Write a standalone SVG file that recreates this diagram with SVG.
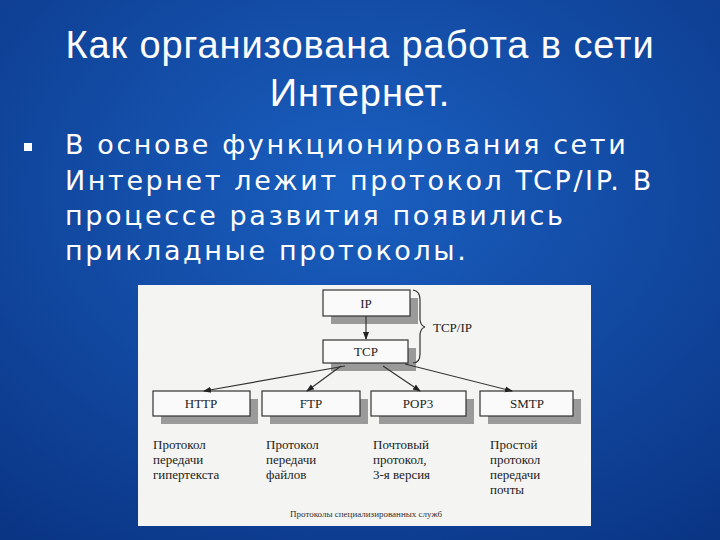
<svg xmlns="http://www.w3.org/2000/svg" width="720" height="540" viewBox="0 0 720 540">
<defs>
<radialGradient id="bg" cx="0.5" cy="0.35" r="0.8">
<stop offset="0" stop-color="#1a5fc0"/><stop offset="1" stop-color="#0a3585"/>
</radialGradient>
<marker id="ah" markerWidth="8" markerHeight="8" refX="7" refY="4" orient="auto" markerUnits="userSpaceOnUse"><path d="M0,1 L8,4 L0,7 z" fill="#222"/></marker>
<style>
.t{fill:#fff;font-family:"Liberation Sans",Arial,sans-serif;letter-spacing:0.9px}
.b{fill:#fff;font-family:"DejaVu Sans",sans-serif;font-size:27px;letter-spacing:2.6px}
.box{fill:#fafafa;stroke:#333;stroke-width:1.2}
.sh{fill:#9a9a9a}
.l{font-family:"Liberation Serif","DejaVu Serif",serif;font-size:13px;fill:#222}
.c{fill:none;stroke:#333;stroke-width:1.2}
</style>
</defs>
<rect width="720" height="540" fill="url(#bg)"/>
<text class="t" font-size="38" x="360" y="58" text-anchor="middle">Как организована работа в сети</text>
<text class="t" font-size="38" x="360" y="106" text-anchor="middle">Интернет.</text>
<rect x="24" y="143" width="8" height="8" fill="#fff"/>
<text class="b" x="65" y="154">В основе функционирования сети</text>
<text class="b" x="65" y="190">Интернет лежит протокол TCP/IP. В</text>
<text class="b" x="65" y="225">процессе развития появились</text>
<text class="b" x="65" y="260">прикладные протоколы.</text>
<rect x="138" y="285" width="453" height="241" fill="#f4f4f2"/>
<g id="IP"><rect class="sh" x="331" y="298" width="87" height="26"/><rect class="box" x="323" y="290" width="87" height="26"/><text class="l" x="366" y="308" text-anchor="middle">IP</text></g>
<g id="TCP"><rect class="sh" x="331" y="348" width="85" height="23"/><rect class="box" x="323" y="340" width="85" height="23"/><text class="l" x="366" y="356" text-anchor="middle">TCP</text></g>
<g id="HTTP"><rect class="sh" x="161" y="399" width="97" height="25"/><rect class="box" x="153" y="391" width="97" height="25"/><text class="l" x="201" y="408" text-anchor="middle">HTTP</text>
<text class="l" x="153" y="449">Протокол</text><text class="l" x="153" y="464">передачи</text><text class="l" x="153" y="479">гипертекста</text></g>
<g id="FTP"><rect class="sh" x="270" y="399" width="98" height="25"/><rect class="box" x="262" y="391" width="98" height="25"/><text class="l" x="311" y="408" text-anchor="middle">FTP</text>
<text class="l" x="266" y="449">Протокол</text><text class="l" x="266" y="464">передачи</text><text class="l" x="266" y="479">файлов</text></g>
<g id="POP3"><rect class="sh" x="379" y="399" width="95" height="25"/><rect class="box" x="371" y="391" width="95" height="25"/><text class="l" x="418" y="408" text-anchor="middle">POP3</text>
<text class="l" x="373" y="449">Почтовый</text><text class="l" x="373" y="464">протокол,</text><text class="l" x="373" y="479">3-я версия</text></g>
<g id="SMTP"><rect class="sh" x="488" y="399" width="93" height="25"/><rect class="box" x="480" y="391" width="93" height="25"/><text class="l" x="527" y="408" text-anchor="middle">SMTP</text>
<text class="l" x="490" y="449">Простой</text><text class="l" x="490" y="464">протокол</text><text class="l" x="490" y="479">передачи</text><text class="l" x="490" y="494">почты</text></g>
<g id="connectors">
<line class="c" x1="366" y1="316" x2="366" y2="339" marker-end="url(#ah)"/>
<line class="c" x1="345" y1="366" x2="204" y2="391" marker-end="url(#ah)"/>
<line class="c" x1="341" y1="366" x2="307" y2="391" marker-end="url(#ah)"/>
<line class="c" x1="383" y1="366" x2="420" y2="391" marker-end="url(#ah)"/>
<line class="c" x1="405" y1="364" x2="512" y2="391" marker-end="url(#ah)"/>
<path class="c" d="M413,290 Q420,291 420,300 L420,320 Q421,326 425,327 Q421,328 420,334 L420,354 Q420,363 413,363"/>
<text class="l" x="433" y="332">TCP/IP</text>
</g>
<text x="290" y="517" font-family="Liberation Serif,serif" font-size="9" fill="#333">Протоколы специализированных служб</text>
</svg>
